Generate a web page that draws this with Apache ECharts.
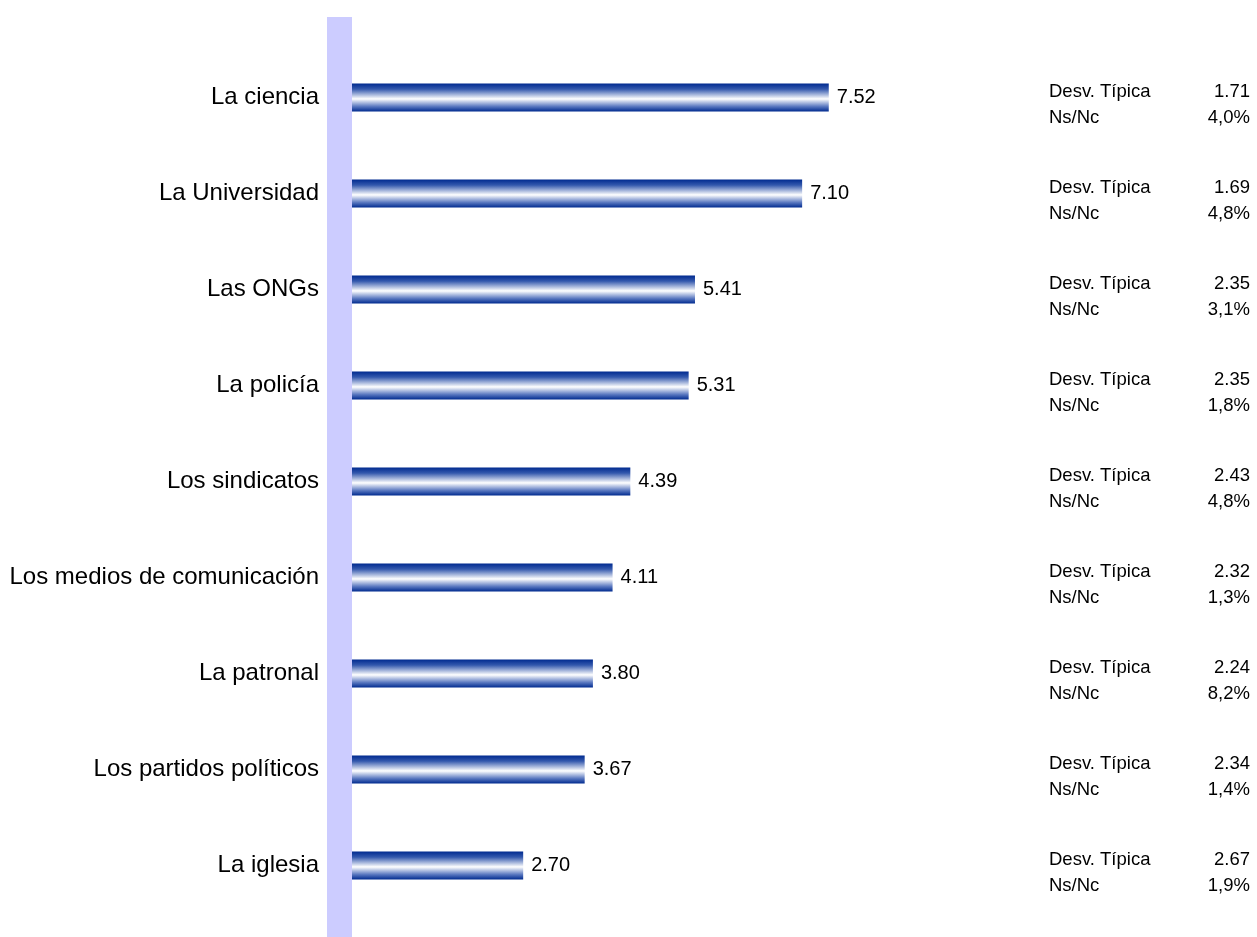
<!DOCTYPE html>
<html>
<head>
<meta charset="utf-8">
<script src="https://cdn.jsdelivr.net/npm/echarts@6/dist/echarts.min.js"></script>
<style>
html,body{margin:0;padding:0;background:#fff;}
#chart{width:1257px;height:937px;}
</style>
</head>
<body>
<div id="chart"></div>
<script>
const categories = ["La ciencia","La Universidad","Las ONGs","La policía","Los sindicatos","Los medios de comunicación","La patronal","Los partidos políticos","La iglesia"];
const means = [7.52, 7.10, 5.41, 5.31, 4.39, 4.11, 3.80, 3.67, 2.70];
const stdDevs = ["1.71","1.69","2.35","2.35","2.43","2.32","2.24","2.34","2.67"];
const nsnc = ["4,0%","4,8%","3,1%","1,8%","4,8%","1,3%","8,2%","1,4%","1,9%"];

const FONT = '"Liberation Sans", Arial, sans-serif';
const chart = echarts.init(document.getElementById('chart'));
chart.setOption({
  animation: false,
  backgroundColor: '#ffffff',
  graphic: [{
    type: 'rect', z: -10,
    shape: { x: 327, y: 17, width: 25, height: 920 },
    style: { fill: '#CCCCFF' }
  }],
  grid: { left: 352, top: 49.5, height: 864, width: 634 },
  xAxis: {
    type: 'value', min: 0, max: 10, show: false
  },
  yAxis: [{
    type: 'category', data: categories, inverse: true,
    axisLine: { show: false }, axisTick: { show: false }, splitLine: { show: false },
    axisLabel: { margin: 33, fontSize: 24, color: '#000', fontFamily: FONT }
  }, {
    type: 'category', data: categories, inverse: true, position: 'right',
    axisLine: { show: false }, axisTick: { show: false }, splitLine: { show: false },
    axisLabel: {
      margin: 63, align: 'left', verticalAlign: 'middle', padding: [14, 0, 0, 0],
      fontFamily: FONT, color: '#000',
      formatter: function (v, i) {
        return '{a|Desv. Típica}{b|' + stdDevs[i] + '}\n{a|Ns/Nc}{c|' + nsnc[i] + '}';
      },
      rich: {
        a: { width: 130, align: 'left', fontSize: 18.5, lineHeight: 26, fontFamily: FONT, color: '#000' },
        b: { width: 62, align: 'right', fontSize: 18.5, lineHeight: 26, fontFamily: FONT, color: '#000' },
        c: { width: 71, align: 'right', fontSize: 18.5, lineHeight: 26, fontFamily: FONT, color: '#000' }
      }
    }
  }],
  series: [{
    type: 'bar', data: means, barWidth: 28, yAxisIndex: 0,
    itemStyle: {
      color: new echarts.graphic.LinearGradient(0, 0, 0, 1, [
        { offset: 0, color: '#002a8f' },
        { offset: 0.2, color: '#3358ad' },
        { offset: 0.55, color: '#ffffff' },
        { offset: 0.82, color: '#5a78c0' },
        { offset: 1, color: '#002a8f' }
      ])
    },
    label: {
      show: true, position: 'right', distance: 8, fontSize: 20, color: '#000', fontFamily: FONT,
      formatter: function (p) { return p.value.toFixed(2); }
    }
  }]
});
</script>
</body>
</html>
